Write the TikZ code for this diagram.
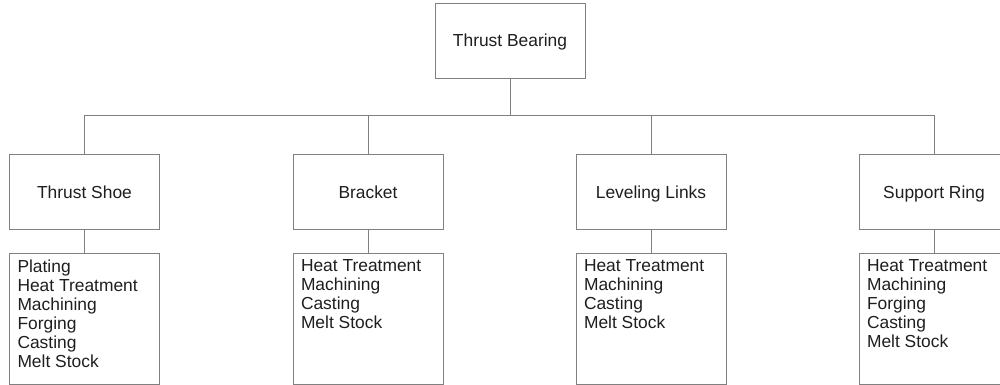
\documentclass[tikz,border=0pt]{standalone}
\usepackage{fontspec}
\setmainfont{Liberation Sans}
\begin{document}
\begin{tikzpicture}[x=1pt,y=-1pt,
  every node/.style={font=\fontsize{17.4}{19}\selectfont, text=ink},
  partbox/.style={draw=edge, line width=0.9pt, minimum width=150pt, minimum height=75pt, inner sep=0pt, text height=13pt, text depth=0pt},
  listbox/.style={draw=edge, line width=0.9pt, anchor=north, inner xsep=8pt, inner ysep=6pt},
  link/.style={draw=edge, line width=0.9pt}]
\definecolor{edge}{RGB}{128,128,128}
\definecolor{ink}{RGB}{30,30,30}
\useasboundingbox (0,0) rectangle (1000,385);
\newcommand{\oplist}[1]{\parbox[t][119pt][t]{134pt}{\raggedright #1}}

% assembly at the top
\node[partbox] (top) at (510,40.5) {Thrust Bearing};

% components
\node[partbox] (shoe)    at (84.5,191.5) {Thrust Shoe};
\node[partbox] (bracket) at (368,191.5)  {Bracket};
\node[partbox] (links)   at (651,191.5)  {Leveling Links};
\node[partbox] (ring)    at (934,191.5)  {Support Ring};

% operations of each component
\node[listbox] (shoeops)    at (84.5,253) {\oplist{Plating\\Heat Treatment\\Machining\\Forging\\Casting\\Melt Stock}};
\node[listbox] (bracketops) at (368,253)  {\oplist{Heat Treatment\\Machining\\Casting\\Melt Stock}};
\node[listbox] (linksops)   at (651,253)  {\oplist{Heat Treatment\\Machining\\Casting\\Melt Stock}};
\node[listbox] (ringops)    at (934,253)  {\oplist{Heat Treatment\\Machining\\Forging\\Casting\\Melt Stock}};

% tree connectors
\foreach \c in {shoe,bracket,links,ring}{
  \draw[link] (top.south) -- +(0,37) -| (\c.north);
}
\draw[link] (shoe.south) -- (shoeops.north);
\draw[link] (bracket.south) -- (bracketops.north);
\draw[link] (links.south) -- (linksops.north);
\draw[link] (ring.south) -- (ringops.north);
\end{tikzpicture}
\end{document}
